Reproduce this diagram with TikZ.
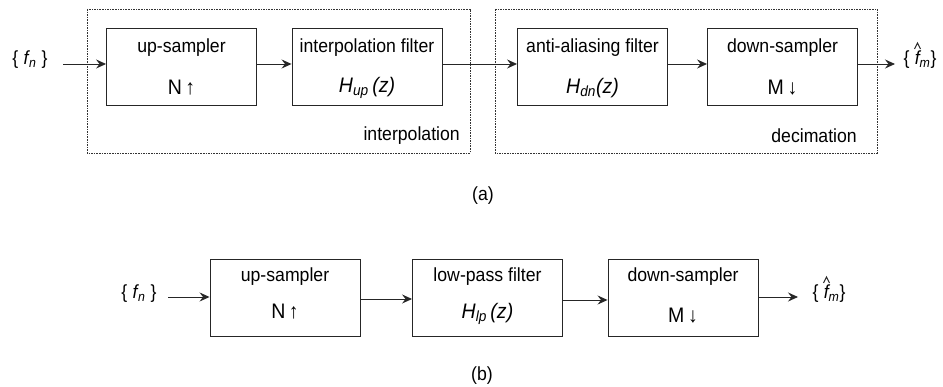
\documentclass[tikz,border=0pt]{standalone}
\usepackage{fontspec}
\setmainfont[FakeStretch=0.93]{Liberation Sans}
\usetikzlibrary{arrows.meta,calc}
\tikzset{
  block/.style={draw=black!85, line width=0.9pt, minimum width=150pt, minimum height=77pt, inner sep=0pt},
  group/.style={draw=black!80, line width=0.6pt, dash pattern=on 1.6pt off 1pt},
  lbl/.style={font=\fontsize{19}{21}\selectfont, inner sep=0pt},
  big/.style={font=\fontsize{21}{23}\selectfont, inner sep=0pt},
  sig/.style={draw=black!85, line width=0.9pt, -{Stealth[length=10pt,width=9pt,inset=3.5pt]}},
  hatmark/.style={draw=black!85, line width=1pt, line join=miter},
}
\newcommand{\fin}{\{\;{\itshape f\kern0.5pt\textsubscript{n}}\;\}}
\newcommand{\fout}{\{\;{\itshape f\textsubscript{m}}\}}
\begin{document}
\begin{tikzpicture}[x=1pt,y=-1pt]
\useasboundingbox (0,0) rectangle (943,387);
% ---------- (a) interpolation followed by decimation ----------
\draw[group] (87,9) rectangle (470,153);
\draw[group] (495,9) rectangle (877,153);
\node[block] (up)  at (181.5,66.5) {};
\node[block] (hup) at (367,66.5) {};
\node[block] (hdn) at (592.5,66.5) {};
\node[block] (dn)  at (782.5,66.5) {};
\node[lbl] at (181.5,48) {up-sampler};
\node[big] at (181.5,88) {N\,↑};
\node[lbl] at (367,48) {interpolation filter};
\node[big] at (367,88) {\itshape H\textsubscript{up}\,(z)};
\node[lbl] at (592.5,48) {anti-aliasing filter};
\node[big] at (592.5,88) {\itshape H\textsubscript{dn}(z)};
\node[lbl] at (782.5,48) {down-sampler};
\node[big] at (782.5,88) {M\,↓};
\node[lbl, anchor=east] at (460,136) {interpolation};
\node[lbl, anchor=east] at (857,136) {decimation};
\node[lbl] (ina) at (30,60) {\fin};
\node[lbl] (outa) at (920,60) {\fout};
% hat over the output f
\draw[hatmark] ($(outa.center)+(-5.5,-11)$) -- ++(3,-6) -- ++(3,6);
\coordinate (ina0) at (63,64);
\coordinate (outa0) at (895,64);
\draw[sig] (ina0) -- (up.west |- ina0);
\draw[sig] (up.east |- ina0) -- (hup.west |- ina0);
\draw[sig] (hup.east |- ina0) -- (hdn.west |- ina0);
\draw[sig] (hdn.east |- ina0) -- (dn.west |- ina0);
\draw[sig] (dn.east |- ina0) -- (outa0);
\node[lbl] (capa) at (483,196) {(a)};
% ---------- (b) single low-pass stage ----------
\node[block] (upb)  at (285,298) {};
\node[block] (lpb)  at (487.5,298) {};
\node[block] (dnb)  at (683,298) {};
\node[lbl] at (285,277) {up-sampler};
\node[big] at (285,312) {N\,↑};
\node[lbl] at (487.5,277) {low-pass filter};
\node[big] at (487.5,314) {\itshape H\textsubscript{lp}\,(z)};
\node[lbl] at (683,277) {down-sampler};
\node[big] at (683,316) {M\,↓};
\node[lbl] (inb) at (139,294) {\fin};
\node[lbl] (outb) at (829,294) {\fout};
\draw[hatmark] ($(outb.center)+(-5.5,-11)$) -- ++(3,-6) -- ++(3,6);
\coordinate (inb0) at (168,297);
\coordinate (outb0) at (798,297);
\draw[sig] (inb0) -- (upb.west |- inb0);
\draw[sig] (upb.east |- 0,299) -- (lpb.west |- 0,299);
\draw[sig] (lpb.east |- 0,300) -- (dnb.west |- 0,300);
\draw[sig] (dnb.east |- outb0) -- (outb0);
\node[lbl] (capb) at (482,376) {(b)};
\end{tikzpicture}
\end{document}
